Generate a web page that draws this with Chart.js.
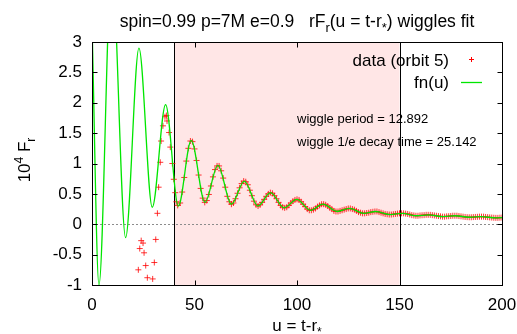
<!DOCTYPE html>
<html>
<head>
<meta charset="utf-8">
<script src="https://cdn.jsdelivr.net/npm/chart.js@4.4.0/dist/chart.umd.min.js"></script>
<style>
  html, body { margin: 0; padding: 0; background: #fff; }
  canvas { display: block; }
</style>
</head>
<body>
<canvas id="wiggles" width="517" height="334"></canvas>
<script>
const fitU = [0, 3.4, 9.6, 16.4, 22.9, 29.4, 35.9, 42.1, 48.4, 55.1, 61.4, 68.0, 74.3, 80.9, 87.1,
  93.7, 99.9, 106.6, 112.6, 119.6, 125.5, 132.6, 138.4, 145.5, 151.3, 158.4, 164.2, 171.3, 177.1,
  184.2, 190.0, 197.1, 200];
const fitF = [3.3, -1.0, 4.3, -0.22, 2.90, 0.28, 1.97, 0.30, 1.38, 0.36, 0.97, 0.33, 0.71, 0.30, 0.52,
  0.27, 0.41, 0.23, 0.33, 0.21, 0.26, 0.18, 0.21, 0.16, 0.18, 0.14, 0.155, 0.125, 0.14,
  0.115, 0.125, 0.105, 0.11];

// data (orbit 5), the scattered early part
const rawU = [22.6, 23.3, 24.0, 24.9, 25.4, 26.2, 27.0, 29.6, 30.4, 31.1, 31.9, 32.5, 33.3, 33.7,
  34.6, 35.6, 36.3, 36.6, 37.6, 38.2, 39.2, 39.9, 40.6, 41.1, 41.8];
const rawF = [-0.75, -0.40, -0.27, -0.31, -0.47, -0.68, -0.88, -0.90, -0.63, -0.25, 0.18, 0.61, 1.02, 1.37,
  1.62, 1.77, 1.79, 1.70, 1.51, 1.27, 1.00, 0.74, 0.52, 0.37, 0.31];

// data (orbit 5) from u = 43 on, one sample per unit of u
const tailStart = 43;
const tailF = [
  0.35, 0.53, 0.77, 1.04, 1.25, 1.37, 1.36, 1.24, 1.05, 0.81,   // 43-52
  0.59, 0.43, 0.36, 0.39, 0.49, 0.63, 0.78, 0.90, 0.96, 0.96,   // 53-62
  0.88, 0.76, 0.61, 0.46, 0.37, 0.33, 0.35, 0.42, 0.51, 0.60,   // 63-72
  0.67, 0.71, 0.70, 0.65, 0.56, 0.47, 0.38, 0.32, 0.30, 0.32,   // 73-82
  0.36, 0.41, 0.46, 0.50, 0.52, 0.51, 0.47, 0.42, 0.36, 0.31,   // 83-92
  0.28, 0.27, 0.28, 0.31, 0.35, 0.38, 0.40, 0.41, 0.40, 0.37,   // 93-102
  0.33, 0.29, 0.25, 0.23, 0.23, 0.24, 0.26, 0.29, 0.31, 0.33,   // 103-112
  0.33, 0.32, 0.30, 0.27, 0.25, 0.22, 0.21, 0.21, 0.22, 0.23,   // 113-122
  0.24, 0.25, 0.26, 0.26, 0.25, 0.24, 0.22, 0.20, 0.19, 0.18,   // 123-132
  0.18, 0.185, 0.19, 0.20, 0.205, 0.21, 0.21, 0.20, 0.19, 0.18, // 133-142
  0.17, 0.165, 0.16, 0.16, 0.165, 0.17, 0.175, 0.18, 0.18, 0.18, // 143-152
  0.175, 0.17, 0.16, 0.15, 0.145, 0.14, 0.14, 0.145, 0.148, 0.15, // 153-162
  0.155, 0.155, 0.155, 0.15, 0.145, 0.14, 0.135, 0.13, 0.125, 0.125, // 163-172
  0.13, 0.132, 0.136, 0.14, 0.14, 0.14, 0.135, 0.13, 0.125, 0.12, // 173-182
  0.117, 0.115, 0.115, 0.118, 0.12, 0.122, 0.125, 0.125, 0.125, 0.12, // 183-192
  0.117, 0.113, 0.11, 0.107, 0.105, 0.105, 0.108, 0.11          // 193-200
];

const xTicks = [0, 50, 100, 150, 200];
const yTicks = [-1, -0.5, 0, 0.5, 1, 1.5, 2, 2.5, 3];
const fitWindow = [40, 150];
const wigglePeriod = '12.892';
const wiggleDecay = '25.142';

const FONT = '"Liberation Sans", Arial, sans-serif';

const fitPoints = fitU.map((u, i) => ({ x: u, y: fitF[i] }));
const dataPoints = rawU.map((u, i) => ({ x: u, y: rawF[i] }))
  .concat(tailF.map((f, i) => ({ x: tailStart + i, y: f })));

// text with sub/superscripts, gnuplot enhanced-text style
function richText(ctx, parts, x, y, size, align) {
  const fontOf = p => ((p.sub || p.sup) ? Math.round(size * 0.72) : size) + 'px ' + FONT;
  const widths = parts.map(p => { ctx.font = fontOf(p); return ctx.measureText(p.t).width; });
  const total = widths.reduce((a, b) => a + b, 0);
  let cx = align === 'center' ? x - total / 2 : (align === 'right' ? x - total : x);
  ctx.textAlign = 'left';
  ctx.textBaseline = 'alphabetic';
  parts.forEach((p, i) => {
    ctx.font = fontOf(p);
    const dy = p.sub ? size * 0.28 : (p.sup ? -size * 0.42 : 0);
    ctx.fillText(p.t, cx, y + dy);
    cx += widths[i];
  });
}

const gnuplotLook = {
  id: 'gnuplotLook',
  beforeDatasetsDraw(chart) {
    const { ctx, chartArea: a, scales: { x, y } } = chart;
    ctx.save();
    const x0 = x.getPixelForValue(fitWindow[0]);
    const x1 = x.getPixelForValue(fitWindow[1]);
    ctx.fillStyle = '#ffe6e6';
    ctx.fillRect(x0, a.top, x1 - x0, a.bottom - a.top);

    // dotted zero axis
    const y0 = Math.round(y.getPixelForValue(0)) + 0.5;
    ctx.strokeStyle = '#8c8c8c';
    ctx.lineWidth = 1;
    ctx.setLineDash([2, 2]);
    ctx.beginPath();
    ctx.moveTo(a.left, y0);
    ctx.lineTo(a.right, y0);
    ctx.stroke();
    ctx.setLineDash([]);

    // edges of the fit window
    ctx.strokeStyle = '#000';
    [x0, x1].forEach(px => {
      const sx = Math.round(px) + 0.5;
      ctx.beginPath();
      ctx.moveTo(sx, a.top);
      ctx.lineTo(sx, a.bottom);
      ctx.stroke();
    });
    ctx.restore();
  },
  afterDraw(chart) {
    const { ctx, chartArea: a, scales: { x, y } } = chart;
    ctx.save();
    ctx.strokeStyle = '#000';
    ctx.lineWidth = 1;
    const L = a.left + 0.5, R = a.right + 0.5, T = a.top + 0.5, B = a.bottom + 0.5;
    ctx.strokeRect(L, T, R - L, B - T);

    // inward ticks on all four sides
    ctx.beginPath();
    xTicks.forEach(v => {
      const px = Math.round(x.getPixelForValue(v)) + 0.5;
      ctx.moveTo(px, B); ctx.lineTo(px, B - 5);
      ctx.moveTo(px, T); ctx.lineTo(px, T + 5);
    });
    yTicks.forEach(v => {
      const py = Math.round(y.getPixelForValue(v)) + 0.5;
      ctx.moveTo(L, py); ctx.lineTo(L + 5, py);
      ctx.moveTo(R, py); ctx.lineTo(R - 5, py);
    });
    ctx.stroke();

    ctx.fillStyle = '#000';
    // title
    richText(ctx, [
      { t: 'spin=0.99 p=7M e=0.9   rF' }, { t: 'r', sub: true },
      { t: '(u = t-r' }, { t: '*', sub: true }, { t: ') wiggles fit' }
    ], 297, 27, 17.5, 'center');

    // axis titles
    richText(ctx, [{ t: 'u = t-r' }, { t: '*', sub: true }], 297, 331, 17, 'center');
    ctx.save();
    ctx.translate(30, 160);
    ctx.rotate(-Math.PI / 2);
    richText(ctx, [{ t: '10' }, { t: '4', sup: true }, { t: ' F' }, { t: 'r', sub: true }], 0, 0, 17, 'center');
    ctx.restore();

    // key
    ctx.font = '17px ' + FONT;
    ctx.textAlign = 'right';
    ctx.textBaseline = 'alphabetic';
    ctx.fillText('data (orbit 5)', 449, 65.5);
    ctx.fillText('fn(u)', 449, 88);
    ctx.strokeStyle = '#ff0000';
    ctx.beginPath();
    ctx.moveTo(469, 59.5); ctx.lineTo(474, 59.5);
    ctx.moveTo(471.5, 57); ctx.lineTo(471.5, 62);
    ctx.stroke();
    ctx.strokeStyle = '#00e600';
    ctx.lineWidth = 1.3;
    ctx.beginPath();
    ctx.moveTo(461, 82.5); ctx.lineTo(482, 82.5);
    ctx.stroke();

    // fit results
    ctx.fillStyle = '#000';
    ctx.font = '13px ' + FONT;
    ctx.textAlign = 'left';
    ctx.fillText('wiggle period = ' + wigglePeriod, 297, 122.5);
    ctx.fillText('wiggle 1/e decay time = ' + wiggleDecay, 297, 146);
    ctx.restore();
  }
};

new Chart(document.getElementById('wiggles').getContext('2d'), {
  type: 'scatter',
  data: {
    datasets: [
      {
        label: 'fn(u)',
        data: fitPoints,
        showLine: true,
        borderColor: '#00e600',
        borderWidth: 1.3,
        pointRadius: 0,
        cubicInterpolationMode: 'monotone',
        fill: false
      },
      {
        label: 'data (orbit 5)',
        data: dataPoints,
        showLine: false,
        pointStyle: 'cross',
        pointRadius: 3,
        borderWidth: 1,
        borderColor: 'rgba(255, 0, 0, 0.8)'
      }
    ]
  },
  options: {
    responsive: false,
    devicePixelRatio: 1,
    animation: false,
    layout: { padding: { top: 42, right: 15, left: 0, bottom: 0 } },
    plugins: { legend: { display: false }, tooltip: { enabled: false } },
    scales: {
      x: {
        type: 'linear',
        min: 0,
        max: 200,
        afterFit: s => { s.height = 49; s.paddingLeft = 0; s.paddingRight = 0; },
        afterBuildTicks: s => { s.ticks = xTicks.map(v => ({ value: v })); },
        grid: { display: false, drawTicks: false },
        border: { display: false },
        ticks: { color: '#000', padding: 10, font: { family: FONT, size: 17 }, callback: v => String(v) }
      },
      y: {
        min: -1,
        max: 3,
        afterFit: s => { s.width = 92; s.paddingTop = 0; s.paddingBottom = 0; },
        afterBuildTicks: s => { s.ticks = yTicks.map(v => ({ value: v })); },
        grid: { display: false, drawTicks: false },
        border: { display: false },
        ticks: { color: '#000', padding: 10, font: { family: FONT, size: 17 }, callback: v => String(v) }
      }
    }
  },
  plugins: [gnuplotLook]
});
</script>
</body>
</html>
